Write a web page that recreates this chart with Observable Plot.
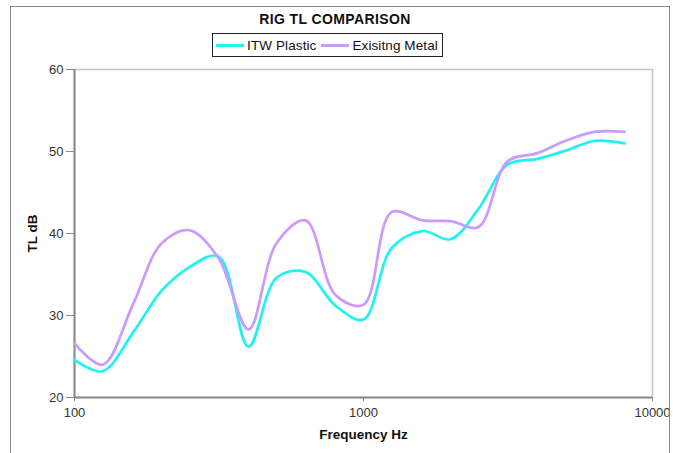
<!DOCTYPE html>
<html><head><meta charset="utf-8">
<script src="https://cdn.jsdelivr.net/npm/d3@7"></script>
<script src="https://cdn.jsdelivr.net/npm/@observablehq/plot@0.6"></script>
<style>
body{margin:0;background:#fff;font-family:"Liberation Sans",Arial,sans-serif;color:#111;}
#wrap{position:relative;width:673px;height:453px;overflow:hidden;}
#frame{position:absolute;left:10px;top:6px;width:660px;height:470px;border:1.5px solid #8a8a8a;box-sizing:border-box;pointer-events:none;}
#head{height:60px;position:relative;}
#title{position:absolute;top:11px;left:0;width:670px;text-align:center;font-weight:bold;font-size:14px;letter-spacing:0.4px;}
#legend{position:absolute;left:212px;top:33px;width:231px;height:24px;border:1px solid #222;box-sizing:border-box;display:flex;align-items:center;justify-content:center;font-size:13.5px;letter-spacing:0.1px;}
.sw{display:inline-block;width:28px;height:3px;margin:0 3px 0 2px;}
.it{margin-right:3px;}
</style>
</head><body>
<div id="wrap">
<div id="head">
  <div id="title"></div>
  <div id="legend"></div>
</div>
<div id="chart"></div>
<div id="frame"></div>
</div>
<script>
const chartTitle = "RIG TL COMPARISON";
const seriesNames = ["ITW Plastic", "Exisitng Metal"];
const seriesColors = ["#1ef2f2", "#cc99ff"];
const freq = [100,125,160,200,250,315,400,500,630,800,1000,1250,1600,2000,2500,3150,4000,5000,6300,8000];
const itwPlastic =    [24.6,23.2,28.0,33.0,35.9,37.2,26.2,34.6,35.3,31.2,29.5,38.2,40.3,39.3,43.0,48.4,49.1,50.1,51.3,51.0];
const existingMetal = [26.6,24.0,31.5,38.8,40.4,37.0,28.3,38.8,41.6,32.5,31.3,42.6,41.6,41.5,40.8,48.8,49.8,51.3,52.4,52.4];
const xTicks = [100,1000,10000];
const yTicks = [20,30,40,50,60];
const xLabel = "Frequency Hz";
const yLabel = "TL dB";

document.getElementById("title").textContent = chartTitle;
const leg = document.getElementById("legend");
seriesNames.forEach((n,i)=>{
  const s=document.createElement("span"); s.className="sw"; s.style.background=seriesColors[i]; leg.appendChild(s);
  const t=document.createElement("span"); t.className="it"; t.textContent=n; leg.appendChild(t);
});

const data = freq.flatMap((f,i)=>[
  {f, v: itwPlastic[i], s: seriesNames[0]},
  {f, v: existingMetal[i], s: seriesNames[1]}
]);

const chart = Plot.plot({
  width: 673, height: 393,
  marginLeft: 74, marginRight: 21, marginTop: 9, marginBottom: 56,
  style: {fontFamily: '"Liberation Sans", Arial, sans-serif', fontSize: "13px", color: "#222", background: "transparent"},
  x: {type: "log", domain: [100, 10000], label: null},
  y: {domain: [20, 60], label: null},
  color: {domain: seriesNames, range: seriesColors},
  marks: [
    Plot.frame({stroke: "#c4c4c4", strokeWidth: 1.5}),
    Plot.ruleX([100], {stroke: "#8a8a8a", strokeWidth: 2}),
    Plot.ruleY([20], {stroke: "#8a8a8a", strokeWidth: 2}),
    Plot.axisY({ticks: yTicks, tickSize: 8, tickPadding: 3, stroke: "#8a8a8a", fill: "#333", fontSize: 13, label: null}),
    Plot.axisX({ticks: xTicks, tickFormat: d => String(d), tickSize: 4, tickPadding: 6, stroke: "#8a8a8a", fill: "#333", fontSize: 13, label: null}),
    Plot.line(data, {x: "f", y: "v", z: "s", stroke: "s", curve: "catmull-rom", strokeWidth: 2.7}),
    Plot.text([yLabel], {frameAnchor: "left", dx: -42, rotate: -90, textAnchor: "middle", fontWeight: "bold", fontSize: 13.5, fill: "#111"}),
    Plot.text([xLabel], {frameAnchor: "bottom", dy: 41, textAnchor: "middle", fontWeight: "bold", fontSize: 13.5, fill: "#111", style: "letter-spacing:0.5px"})
  ]
});
document.getElementById("chart").appendChild(chart);
</script>
</body></html>
